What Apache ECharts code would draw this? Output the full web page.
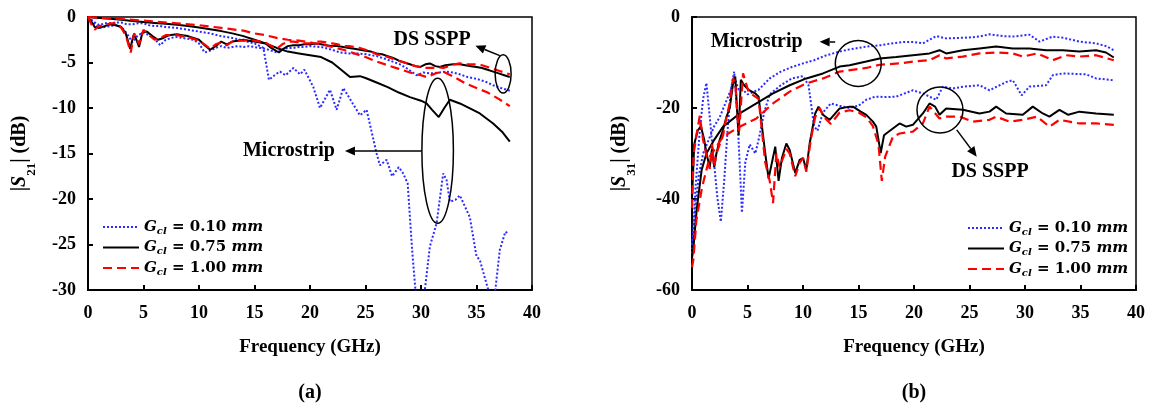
<!DOCTYPE html>
<html><head><meta charset="utf-8">
<script src="https://cdn.jsdelivr.net/npm/echarts/dist/echarts.min.js"></script>
<style>html,body{margin:0;padding:0;background:#fff}#c{width:1162px;height:408px}</style>
</head><body><div id="c"></div>
<script>
// ---------- data ----------
const xTicks = [0, 5, 10, 15, 20, 25, 30, 35, 40];
const gclValues = ['0.10', '0.75', '1.00'];
const seriesNames = gclValues.map(v => 'G_cl = ' + v + ' mm');

// (a) |S21| (dB)
const aDs010 = [[0,0],[0.5,-0.7],[1,-1.2],[1.5,-1.1],[2,-1.0],[2.5,-0.9],[3,-1.1],[3.5,-1.8],[4,-2.8],[4.5,-2.0],[5,-1.7],[5.5,-2.0],[6,-2.4],[6.5,-3.1],[7,-2.5],[7.5,-2.3],[8,-2.2],[8.5,-2.3],[9,-2.4],[9.5,-2.5],[10,-2.9],[10.5,-3.9],[11,-3.7],[11.5,-3.4],[12,-3.2],[12.5,-3.4],[13,-3.3],[13.5,-3.2],[14,-3.3],[14.5,-3.2],[15,-3.3],[15.5,-3.4],[16,-3.5],[16.5,-3.7],[17,-3.9],[17.5,-3.6],[18,-3.4],[18.5,-3.4],[19,-3.3],[19.5,-3.3],[20,-3.2],[21,-3.3],[22,-3.6],[22.7,-3.9],[23.5,-4.0],[24.3,-4.0],[25.1,-4.1],[26,-4.3],[27,-4.7],[28.1,-5.2],[28.8,-5.7],[29.6,-6.4],[30.2,-6.1],[30.8,-6.2],[31.7,-6.1],[32.3,-6.0],[32.9,-6.1],[33.5,-6.3],[34.2,-6.6],[35,-6.8],[35.8,-7.1],[36.5,-7.5],[37.2,-7.8],[38,-8.1]];
const aDs075 = [[0,0],[0.3,-0.5],[0.6,-1.1],[1,-1.2],[1.5,-1.0],[2,-0.8],[2.5,-0.9],[3,-1.1],[3.4,-1.8],[3.8,-3.5],[4.1,-2.0],[4.3,-2.3],[4.6,-3.3],[4.9,-1.7],[5.3,-1.6],[5.8,-2.1],[6.3,-2.5],[6.8,-2.3],[7.3,-2.0],[8,-1.9],[8.5,-2.0],[9,-2.1],[9.5,-2.3],[10,-2.5],[10.5,-3.1],[11,-3.6],[11.5,-3.2],[12,-2.7],[12.5,-3.0],[13,-2.7],[13.5,-2.6],[14,-2.5],[14.5,-2.6],[15,-2.7],[15.5,-2.8],[16,-2.9],[16.5,-3.4],[17.2,-3.9],[17.6,-3.5],[18,-3.2],[18.5,-3.1],[19,-3.1],[19.5,-3.0],[20,-3.0],[20.5,-2.9],[21,-3.0],[21.5,-3.1],[22,-3.2],[22.5,-3.2],[23,-3.3],[23.5,-3.4],[24,-3.5],[24.5,-3.6],[25,-3.7],[25.5,-3.8],[26,-4.0],[26.5,-4.1],[27,-4.3],[27.5,-4.5],[28,-4.8],[28.5,-5.0],[29,-5.2],[29.5,-5.4],[29.9,-5.5],[30.4,-5.2],[30.8,-5.1],[31.3,-5.4],[31.7,-5.5],[32.2,-5.3],[32.9,-5.2],[33.5,-5.2],[34,-5.3],[34.5,-5.4],[35,-5.5],[35.5,-5.6],[36,-5.8],[36.5,-6.0],[37,-6.2],[37.5,-6.4],[38,-6.6]];
const aDs100 = [[0,0],[0.3,-0.8],[0.6,-1.4],[1,-1.0],[1.5,-0.9],[2,-0.7],[2.5,-0.7],[3,-1.2],[3.4,-2.0],[3.85,-3.9],[4.15,-1.8],[4.35,-2.2],[4.6,-3.0],[5,-1.4],[5.5,-2.0],[6,-2.5],[6.5,-2.3],[7,-2.0],[7.5,-2.0],[8,-2.0],[8.5,-2.1],[9,-2.2],[9.5,-2.4],[10,-2.6],[10.5,-3.0],[11,-3.5],[11.5,-3.0],[12,-2.8],[12.5,-3.1],[13,-2.7],[13.5,-2.6],[14,-2.6],[14.5,-2.5],[15,-2.6],[15.5,-2.7],[16,-2.8],[16.5,-3.2],[17,-3.5],[17.5,-3.0],[18,-2.7],[18.5,-2.7],[19,-2.8],[19.5,-2.9],[20,-2.9],[20.5,-2.7],[21,-2.7],[21.5,-2.8],[22,-2.9],[22.5,-3.0],[23,-3.2],[23.5,-3.2],[24,-3.3],[24.5,-3.4],[25,-3.6],[25.5,-3.8],[26,-4.1],[26.5,-4.2],[27,-4.4],[27.5,-4.6],[28,-4.8],[28.5,-5.0],[29,-5.2],[29.5,-5.4],[30,-5.5],[30.5,-5.6],[31,-5.6],[31.5,-5.5],[32,-5.6],[32.5,-5.4],[33,-5.2],[33.5,-5.1],[34,-5.2],[34.5,-5.2],[35,-5.2],[35.5,-5.3],[36,-5.5],[36.5,-5.7],[37,-5.9],[37.5,-6.1],[38,-6.3]];
const aMs010 = [[0,0],[0.5,-0.5],[1,-0.9],[1.5,-0.7],[2,-0.7],[2.5,-0.6],[3,-0.6],[3.5,-0.8],[4,-0.8],[4.5,-0.7],[5,-0.7],[5.5,-0.9],[6,-1.0],[6.5,-1.0],[7,-1.1],[8,-1.2],[9,-1.4],[10,-1.6],[11,-1.8],[12,-2.1],[13,-2.3],[14,-2.6],[15,-2.9],[15.8,-3.4],[16.3,-6.9],[16.9,-6.3],[17.3,-6.0],[17.8,-6.4],[18.5,-5.6],[19.1,-6.3],[19.5,-5.8],[20.3,-7.7],[20.9,-10.0],[21.8,-8.0],[22.4,-10.2],[23,-7.8],[23.6,-9.0],[24.5,-10.8],[25.1,-10.2],[26,-15.0],[26.3,-16.3],[26.9,-15.7],[27.4,-17.5],[28,-16.5],[28.4,-17.2],[28.8,-18.3],[29.2,-25.6],[29.6,-31.5],[30,-33],[30.3,-30.5],[30.8,-25.2],[31.4,-22.7],[32,-17.2],[32.3,-17.9],[32.6,-20.3],[33.1,-20.1],[33.5,-19.6],[34.1,-21.2],[34.4,-22],[35,-26.3],[35.3,-26.7],[35.9,-29.3],[36.3,-31],[36.6,-31],[37.1,-25.6],[37.6,-23.6],[37.9,-23.8]];
const aMs075 = [[0,0],[1,-0.1],[2,-0.2],[3,-0.3],[4,-0.45],[5,-0.55],[6,-0.65],[7,-0.75],[8,-0.85],[9,-1.0],[10,-1.15],[11,-1.35],[12,-1.55],[13,-1.8],[14,-2.1],[15,-2.5],[16,-2.9],[17,-3.4],[18,-3.8],[19,-4.0],[20,-4.2],[21,-4.4],[22,-5.0],[23,-6.0],[23.6,-6.6],[24.5,-6.5],[25,-6.7],[26,-7.2],[27,-7.7],[28,-8.3],[29,-8.8],[30,-9.2],[30.5,-9.5],[31,-10.2],[31.6,-11.0],[32.1,-10.0],[32.6,-9.1],[33.5,-9.5],[34.5,-10.1],[35.3,-10.6],[36.5,-11.7],[37.3,-12.6],[38,-13.7]];
const aMs100 = [[0,0],[2,-0.15],[4,-0.3],[6,-0.5],[8,-0.7],[10,-0.9],[12,-1.2],[14,-1.5],[15,-1.8],[16,-2.0],[17,-2.3],[18,-2.5],[19,-2.6],[20,-2.8],[21,-3.0],[22,-3.3],[23,-3.6],[24,-4.0],[25,-4.4],[26,-4.9],[27,-5.3],[28,-5.7],[29,-6.1],[30,-6.4],[30.5,-6.6],[31.3,-6.2],[32,-6.0],[33,-6.6],[34,-7.3],[35,-7.8],[36,-8.3],[37,-9.0],[38,-9.8]];

// (b) |S31| (dB)
const bDs010 = [[0,-52],[0.3,-38],[0.7,-25],[1.0,-18],[1.3,-14.5],[1.6,-22],[1.9,-30],[2.3,-40],[2.6,-45],[2.9,-36],[3.2,-25],[3.5,-16],[3.8,-12],[4.1,-22],[4.5,-43],[4.8,-32],[5.2,-28],[5.7,-30],[6.0,-27],[6.5,-21],[7,-17],[8,-15],[9,-13.5],[10,-13],[10.5,-15],[11.0,-24],[11.3,-25],[11.8,-21],[12.5,-19],[13.3,-19.5],[14.2,-20],[15,-19.5],[15.7,-18.2],[16.5,-17.5],[17.5,-17.6],[18.4,-17.5],[19.9,-16.1],[20.8,-16.8],[22,-18.2],[22.6,-15.3],[23.5,-15.7],[24.5,-15.3],[25.9,-15],[26.8,-16.1],[28.3,-14.3],[28.9,-13.9],[29.7,-17.2],[30.4,-15.3],[31.9,-15],[32.5,-12.8],[33.4,-12.4],[34.5,-12.5],[35.5,-12.6],[36.4,-13.5],[38,-13.9]];
const bDs075 = [[0,-40],[0.2,-28],[0.5,-25],[0.8,-24],[1.1,-27],[1.3,-30],[1.6,-33],[1.8,-29],[2.0,-33],[2.2,-30],[2.5,-27],[2.8,-24.8],[3.1,-22],[3.4,-20],[3.7,-14.6],[3.9,-13.1],[4.05,-20],[4.2,-26],[4.4,-13.8],[4.7,-15],[5.1,-16],[5.7,-16.8],[6.0,-17.5],[6.3,-24],[6.6,-30],[6.9,-35.5],[7.2,-32],[7.5,-28.5],[7.8,-36],[8.1,-31],[8.5,-27.8],[8.8,-29.2],[9.3,-34.3],[9.7,-31.4],[10.0,-31],[10.3,-33.6],[10.6,-27.8],[11.1,-21.2],[11.4,-19.7],[11.8,-21.5],[12.4,-22.6],[13.3,-20.1],[14.2,-19.7],[14.5,-19.7],[15.2,-20.8],[15.7,-21.5],[16.3,-23],[16.6,-24.1],[17.0,-29.9],[17.3,-26],[17.5,-25.6],[18.1,-24.5],[18.7,-23.4],[19.3,-24.1],[19.9,-23.7],[20.8,-21.2],[21.4,-19],[21.9,-19.7],[22.3,-21.5],[22.9,-20.1],[24.4,-20.4],[25.9,-21.2],[26.8,-20.8],[27.4,-19.7],[28.3,-21.2],[29.8,-21.5],[30.7,-19.7],[31.6,-21.2],[32.2,-21.9],[33.1,-20.4],[33.9,-21.5],[34.9,-20.8],[36.4,-21.2],[38,-21.5]];
const bDs100 = [[0,-42],[0.15,-30],[0.4,-26],[0.7,-21.7],[1.0,-27],[1.3,-30.4],[1.6,-33.4],[1.8,-28],[2.0,-33],[2.2,-30],[2.5,-28],[2.8,-26],[3.1,-22],[3.4,-19],[3.7,-13.5],[3.9,-14.5],[4.1,-22],[4.25,-25],[4.6,-12.4],[5.1,-16.5],[5.7,-17.5],[6.0,-18],[6.3,-25],[6.6,-32],[7.0,-36],[7.3,-40.9],[7.6,-30],[7.9,-33],[8.2,-31],[8.5,-29],[8.8,-30],[9.3,-35],[9.7,-32],[10.0,-31],[10.3,-34],[10.7,-27],[11.1,-22],[11.5,-20],[11.9,-22],[12.5,-23.5],[13.3,-21],[14.2,-20.5],[15,-21],[15.7,-22],[16.3,-24],[16.8,-28],[17.1,-36],[17.4,-30.7],[18.1,-26.3],[18.7,-25.6],[19.9,-25.2],[20.8,-23.4],[21.4,-19.7],[22.3,-22.3],[22.9,-21.9],[24.1,-21.9],[25.3,-23],[26.8,-22.6],[27.4,-21.9],[28.6,-23],[29.8,-22.6],[31.1,-21.9],[32.2,-24.1],[33.1,-22.6],[34.9,-23.4],[36.4,-23.4],[38,-23.7]];
const bMs010 = [[0,-50],[0.3,-42],[0.6,-35],[1.0,-30],[1.5,-27],[2,-24],[2.5,-22],[3,-19],[3.5,-16],[3.8,-13],[4.2,-16],[4.6,-16],[5,-17],[5.5,-16.5],[6,-16],[7,-13.5],[8,-12],[9,-11],[10,-10.2],[11,-9.5],[12,-8.5],[13,-7.8],[14,-7.2],[15,-6.8],[16,-6.4],[17,-6.2],[18,-5.8],[19,-5.5],[20,-5.5],[20.8,-5.8],[22,-4.2],[22.9,-4.7],[24,-4.6],[25,-4.5],[25.9,-4.3],[26.8,-3.8],[28,-4.2],[28.9,-4.3],[30.4,-3.9],[31.3,-5.4],[32.5,-4.3],[33.5,-4.6],[34.9,-5.4],[36.4,-5.8],[37.3,-6.4],[38,-7.3]];
const bMs075 = [[0,-53],[0.12,-51],[0.42,-42.4],[0.87,-33.6],[1.3,-30],[2,-27],[2.8,-24.1],[4.3,-21.2],[5.8,-19],[7.3,-16.8],[8.8,-15],[10.3,-13.5],[11.8,-12.4],[13.3,-10.9],[14.2,-10.6],[15.7,-9.8],[16.9,-9.1],[18.4,-8.8],[19.9,-8.4],[21.4,-8.0],[22.3,-7.3],[22.9,-8.0],[24.4,-7.3],[25.9,-6.9],[27.4,-6.5],[28.9,-6.9],[30.4,-6.9],[31.9,-7.3],[33.4,-7.3],[34.9,-7.6],[36.4,-7.3],[37.3,-7.8],[38,-8.9]];
const bMs100 = [[0,-55],[0.12,-53.4],[0.4,-44.6],[0.9,-37.5],[1.6,-30.7],[2.8,-26.3],[4.3,-24.1],[5.8,-22.3],[7.3,-19],[8.8,-16.4],[10.3,-14.6],[11.8,-13.5],[13.3,-12],[15.7,-11.2],[16.9,-10.5],[18.7,-10.2],[19.9,-9.8],[21.4,-9.5],[22.3,-8.4],[22.9,-9.1],[24.4,-8.7],[25.9,-8.0],[27.4,-7.8],[28.9,-8.0],[29.8,-8.7],[31.1,-8.0],[32.5,-9.5],[33.7,-8.4],[34.9,-8.7],[36.4,-8.4],[38,-9.5]];

// ---------- styles ----------
const SERIF = 'Liberation Serif';
const lineStyles = [
  { color: '#2b2bff', width: 2, type: [2, 2] },
  { color: '#000000', width: 2, type: 'solid' },
  { color: '#ff0000', width: 2.2, type: [9, 5] }
];

function mk(name, data, idx, st) {
  return {
    type: 'line', name: name, data: data, xAxisIndex: idx, yAxisIndex: idx,
    symbol: 'none', showSymbol: false, clip: true, silent: true, animation: false,
    lineStyle: { color: st.color, width: st.width, type: st.type },
    itemStyle: { color: st.color }
  };
}

const series = [
  mk(seriesNames[0], aDs010, 0, lineStyles[0]),
  mk(seriesNames[0], aMs010, 0, lineStyles[0]),
  mk(seriesNames[1], aDs075, 0, lineStyles[1]),
  mk(seriesNames[1], aMs075, 0, lineStyles[1]),
  mk(seriesNames[2], aDs100, 0, lineStyles[2]),
  mk(seriesNames[2], aMs100, 0, lineStyles[2]),
  mk(seriesNames[0], bDs010, 1, lineStyles[0]),
  mk(seriesNames[0], bMs010, 1, lineStyles[0]),
  mk(seriesNames[1], bDs075, 1, lineStyles[1]),
  mk(seriesNames[1], bMs075, 1, lineStyles[1]),
  mk(seriesNames[2], bDs100, 1, lineStyles[2]),
  mk(seriesNames[2], bMs100, 1, lineStyles[2])
];

const grids = [
  { left: 88, top: 17, width: 444, height: 273 },
  { left: 692, top: 17, width: 444, height: 273 }
];

const tickLabel = { fontFamily: SERIF, fontWeight: 'bold', fontSize: 18, color: '#000' };

function xAxis(i) {
  return {
    type: 'value', gridIndex: i, min: 0, max: 40, interval: 5,
    name: 'Frequency (GHz)', nameLocation: 'middle', nameGap: 48,
    nameTextStyle: { fontFamily: SERIF, fontWeight: 'bold', fontSize: 19, color: '#000' },
    axisLine: { show: true, onZero: false, lineStyle: { color: '#000', width: 2 } },
    axisTick: { show: true, inside: true, length: 5, lineStyle: { color: '#000', width: 2 } },
    axisLabel: Object.assign({ margin: 14, showMinLabel: true, showMaxLabel: true, hideOverlap: false }, tickLabel),
    splitLine: { show: false }
  };
}
function yAxis(i, min, interval, sub) {
  return {
    type: 'value', gridIndex: i, min: min, max: 0, interval: interval,
    name: '{b||}{s|S}{sub|' + sub + '}{b|| (dB)}', nameLocation: 'middle', nameGap: i === 0 ? 56 : 60, nameRotate: 90,
    nameTextStyle: {
      color: '#000',
      rich: {
        b: { fontFamily: SERIF, fontWeight: 'bold', fontSize: 20, color: '#000', lineHeight: 24 },
        s: { fontFamily: SERIF, fontWeight: 'bold', fontStyle: 'italic', fontSize: 20, color: '#000', lineHeight: 24 },
        sub: { fontFamily: SERIF, fontWeight: 'bold', fontSize: 13, color: '#000', verticalAlign: 'bottom', lineHeight: 24, padding: [0, 0, -6, 0] }
      }
    },
    axisLine: { show: true, onZero: false, lineStyle: { color: '#000', width: 2 } },
    axisTick: { show: true, inside: true, length: 5, lineStyle: { color: '#000', width: 2 } },
    axisLabel: Object.assign({ margin: 12, showMinLabel: true, showMaxLabel: true }, tickLabel),
    splitLine: { show: false }
  };
}

const LF = 'DejaVu Serif';
const legendRich = {
  g: { fontFamily: LF, fontWeight: 'bold', fontStyle: 'italic', fontSize: 15, color: '#000', lineHeight: 18 },
  s: { fontFamily: LF, fontWeight: 'bold', fontStyle: 'italic', fontSize: 10, color: '#000', lineHeight: 18, verticalAlign: 'bottom' },
  t: { fontFamily: LF, fontWeight: 'bold', fontSize: 15, color: '#000', lineHeight: 18 },
  m: { fontFamily: LF, fontWeight: 'bold', fontStyle: 'italic', fontSize: 15, color: '#000', lineHeight: 18 }
};
function legend(left, top) {
  return {
    data: seriesNames, orient: 'vertical', left: left, top: top,
    itemWidth: 36, itemHeight: 14, itemGap: 2.5, padding: 0,
    selectedMode: false,
    itemStyle: { opacity: 0 },
    formatter: function (name) {
      const v = gclValues[seriesNames.indexOf(name)];
      return '{g|G}{s|cl}{t| = ' + v + ' }{m|mm}';
    },
    textStyle: { rich: legendRich, height: 18, lineHeight: 18 }
  };
}

const chart = echarts.init(document.getElementById('c'), null, { renderer: 'canvas' });
chart.setOption({
  animation: false,
  backgroundColor: '#fff',
  grid: grids.map(g => Object.assign({ show: true, borderColor: '#000', borderWidth: 1.5, backgroundColor: 'transparent' }, g)),
  xAxis: [xAxis(0), xAxis(1)],
  yAxis: [yAxis(0, -30, 5, '21'), yAxis(1, -60, 20, '31')],
  legend: [legend(102, 218), legend(967, 219)],
  series: series
});

// ---------- annotations (anchored in data coordinates) ----------
const annotations = {
  a: {
    ellipses: [ { c: [37.4, -6.26], r: [0.72, 2.1] }, { c: [31.5, -14.7], r: [1.42, 7.97] } ],
    arrows: [ { from: [37.1, -4.25], to: [34.9, -3.15] }, { from: [30.06, -14.73], to: [23.15, -14.73] } ],
    texts: [ { at: [31.0, -2.5], text: 'DS SSPP' }, { at: [18.1, -14.7], text: 'Microstrip' } ]
  },
  b: {
    ellipses: [ { c: [14.98, -10.2], r: [2.07, 5.05] }, { c: [22.34, -20.44], r: [2.07, 5.05] } ],
    arrows: [ { from: [12.9, -5.5], to: [11.5, -5.43] }, { from: [23.85, -24.8], to: [25.65, -30.7] } ],
    texts: [ { at: [5.83, -5.5], text: 'Microstrip' }, { at: [26.85, -34.1], text: 'DS SSPP' } ]
  }
};
const captions = [ { grid: 0, text: '(a)' }, { grid: 1, text: '(b)' } ];

const graphics = [];
[['a', 0], ['b', 1]].forEach(([k, gi]) => {
  const ann = annotations[k];
  const P = p => chart.convertToPixel({ gridIndex: gi }, p);
  ann.ellipses.forEach(e => {
    const c = P(e.c), c2 = P([e.c[0] + e.r[0], e.c[1] + e.r[1]]);
    graphics.push({ type: 'ellipse', shape: { cx: c[0], cy: c[1], rx: Math.abs(c2[0] - c[0]), ry: Math.abs(c2[1] - c[1]) },
      style: { fill: 'none', stroke: '#000', lineWidth: 1.5 }, z: 100 });
  });
  ann.arrows.forEach(a => {
    const p1 = P(a.from), p2 = P(a.to);
    const dx = p2[0] - p1[0], dy = p2[1] - p1[1], L = Math.hypot(dx, dy);
    const ux = dx / L, uy = dy / L, hl = 10, hw = 4.5;
    const bx = p2[0] - ux * hl, by = p2[1] - uy * hl;
    graphics.push({ type: 'line', shape: { x1: p1[0], y1: p1[1], x2: bx, y2: by }, style: { stroke: '#000', lineWidth: 1.5 }, z: 100 });
    graphics.push({ type: 'polygon', shape: { points: [[p2[0], p2[1]], [bx - uy * hw, by + ux * hw], [bx + uy * hw, by - ux * hw]] },
      style: { fill: '#000' }, z: 100 });
  });
  ann.texts.forEach(t => {
    const p = P(t.at);
    graphics.push({ type: 'text', x: p[0], y: p[1], z: 100,
      style: { text: t.text, fill: '#000', font: 'bold 20px "Liberation Serif"', textAlign: 'center', textVerticalAlign: 'middle' } });
  });
});
captions.forEach(cp => {
  const p = chart.convertToPixel({ gridIndex: cp.grid }, [20, 0]);
  graphics.push({ type: 'text', x: p[0], y: 393, z: 100,
    style: { text: cp.text, fill: '#000', font: 'bold 20px "Liberation Serif"', textAlign: 'center', textVerticalAlign: 'middle' } });
});
chart.setOption({ graphic: graphics });
</script>
</body></html>
